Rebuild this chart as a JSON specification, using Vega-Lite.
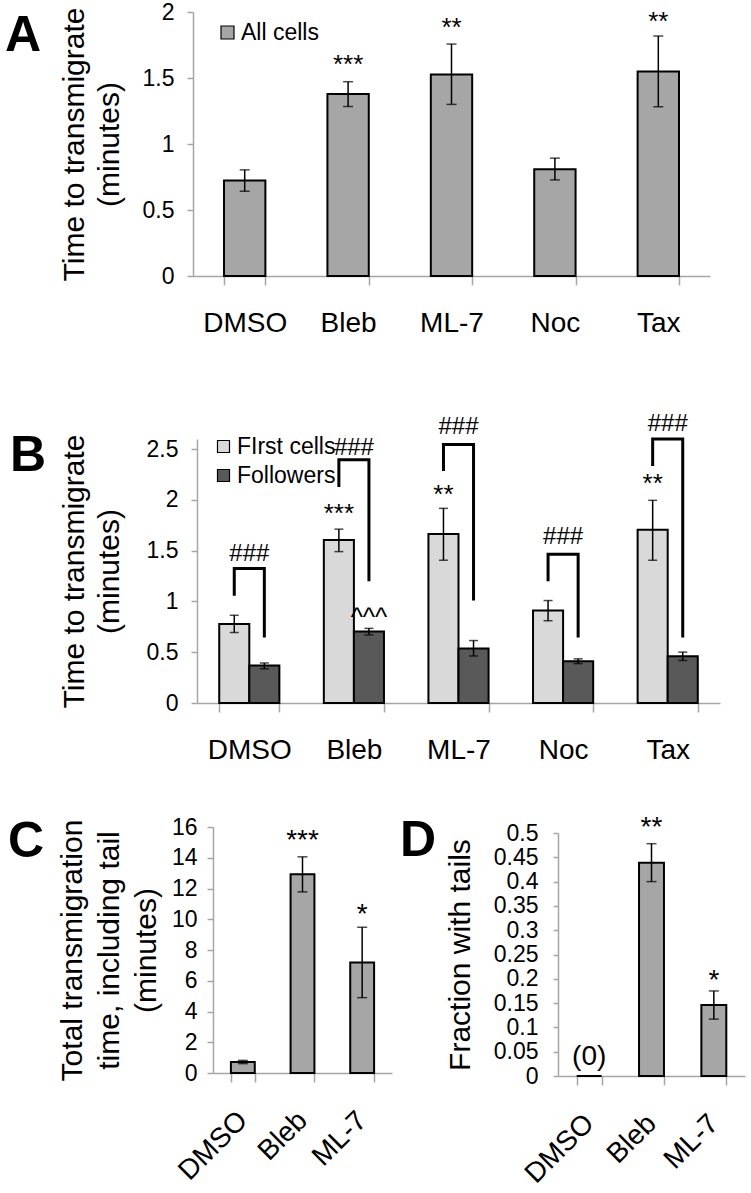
{
  "$schema": "https://vega.github.io/schema/vega-lite/v6.json",
  "autosize": "none",
  "padding": {"left": 193, "top": 12, "right": 558, "bottom": 1181},
  "background": "white",
  "config": {
    "font": "Liberation Sans",
    "view": {"stroke": null},
    "axis": {"domainColor": "#a6a6a6", "tickColor": "#a6a6a6", "domainWidth": 1.5, "tickWidth": 1.5, "labelColor": "#000000", "titleColor": "#000000", "titleFontWeight": "normal", "grid": false, "labelFont": "Liberation Sans", "titleFont": "Liberation Sans", "labelOverlap": false},
    "legend": {"labelFont": "Liberation Sans", "labelColor": "#000000"},
    "title": {"font": "Liberation Sans"}
  },
  "datasets": {
    "a_bars": [
      {"cond": "DMSO", "series": "All cells", "mean": 0.723, "lo": 0.642, "hi": 0.804},
      {"cond": "Bleb", "series": "All cells", "mean": 1.378, "lo": 1.284, "hi": 1.472},
      {"cond": "ML-7", "series": "All cells", "mean": 1.527, "lo": 1.30, "hi": 1.757},
      {"cond": "Noc", "series": "All cells", "mean": 0.809, "lo": 0.728, "hi": 0.893},
      {"cond": "Tax", "series": "All cells", "mean": 1.55, "lo": 1.282, "hi": 1.818}
    ],
    "a_notes": [
      {"cond": "Bleb", "y": 1.538, "label": "***"},
      {"cond": "ML-7", "y": 1.818, "label": "**"},
      {"cond": "Tax", "y": 1.864, "label": "**"}
    ],
    "b_bars": [
      {"cond": "DMSO", "series": "FIrst cells", "mean": 0.779, "lo": 0.694, "hi": 0.864},
      {"cond": "DMSO", "series": "Followers", "mean": 0.369, "lo": 0.337, "hi": 0.394},
      {"cond": "Bleb", "series": "FIrst cells", "mean": 1.605, "lo": 1.491, "hi": 1.712},
      {"cond": "Bleb", "series": "Followers", "mean": 0.703, "lo": 0.671, "hi": 0.735},
      {"cond": "ML-7", "series": "FIrst cells", "mean": 1.665, "lo": 1.406, "hi": 1.917},
      {"cond": "ML-7", "series": "Followers", "mean": 0.536, "lo": 0.463, "hi": 0.615},
      {"cond": "Noc", "series": "FIrst cells", "mean": 0.911, "lo": 0.81, "hi": 1.009},
      {"cond": "Noc", "series": "Followers", "mean": 0.41, "lo": 0.388, "hi": 0.435},
      {"cond": "Tax", "series": "FIrst cells", "mean": 1.706, "lo": 1.406, "hi": 1.996},
      {"cond": "Tax", "series": "Followers", "mean": 0.46, "lo": 0.419, "hi": 0.501}
    ],
    "b_brackets": [
      {"cond": "DMSO", "series": "FIrst cells", "step": 1, "y": 1.056},
      {"cond": "DMSO", "series": "FIrst cells", "step": 2, "y": 1.324},
      {"cond": "DMSO", "series": "Followers", "step": 3, "y": 1.324},
      {"cond": "DMSO", "series": "Followers", "step": 4, "y": 0.646},
      {"cond": "Bleb", "series": "FIrst cells", "step": 1, "y": 2.128},
      {"cond": "Bleb", "series": "FIrst cells", "step": 2, "y": 2.396},
      {"cond": "Bleb", "series": "Followers", "step": 3, "y": 2.396},
      {"cond": "Bleb", "series": "Followers", "step": 4, "y": 1.198},
      {"cond": "ML-7", "series": "FIrst cells", "step": 1, "y": 2.286},
      {"cond": "ML-7", "series": "FIrst cells", "step": 2, "y": 2.547},
      {"cond": "ML-7", "series": "Followers", "step": 3, "y": 2.547},
      {"cond": "ML-7", "series": "Followers", "step": 4, "y": 1.009},
      {"cond": "Noc", "series": "FIrst cells", "step": 1, "y": 1.198},
      {"cond": "Noc", "series": "FIrst cells", "step": 2, "y": 1.466},
      {"cond": "Noc", "series": "Followers", "step": 3, "y": 1.466},
      {"cond": "Noc", "series": "Followers", "step": 4, "y": 0.646},
      {"cond": "Tax", "series": "FIrst cells", "step": 1, "y": 2.333},
      {"cond": "Tax", "series": "FIrst cells", "step": 2, "y": 2.6},
      {"cond": "Tax", "series": "Followers", "step": 3, "y": 2.6},
      {"cond": "Tax", "series": "Followers", "step": 4, "y": 0.646}
    ],
    "b_hash": [
      {"cond": "DMSO", "y": 1.40, "label": "###"},
      {"cond": "Bleb", "y": 2.44, "label": "###"},
      {"cond": "ML-7", "y": 2.65, "label": "###"},
      {"cond": "Noc", "y": 1.57, "label": "###"},
      {"cond": "Tax", "y": 2.68, "label": "###"}
    ],
    "b_notes": [
      {"cond": "Bleb", "series": "FIrst cells", "y": 1.78, "label": "***"},
      {"cond": "ML-7", "series": "FIrst cells", "y": 1.97, "label": "**"},
      {"cond": "Tax", "series": "FIrst cells", "y": 2.08, "label": "**"},
      {"cond": "Bleb", "series": "Followers", "y": 0.76, "label": "^^^"}
    ],
    "c_bars": [
      {"cond": "DMSO", "mean": 0.72, "lo": 0.61, "hi": 0.82},
      {"cond": "Bleb", "mean": 12.93, "lo": 11.78, "hi": 14.06},
      {"cond": "ML-7", "mean": 7.18, "lo": 4.9, "hi": 9.48}
    ],
    "c_notes": [
      {"cond": "Bleb", "y": 14.54, "label": "***"},
      {"cond": "ML-7", "y": 9.75, "label": "*"}
    ],
    "d_bars": [
      {"cond": "DMSO", "mean": 0},
      {"cond": "Bleb", "mean": 0.439},
      {"cond": "ML-7", "mean": 0.146}
    ],
    "d_err": [
      {"cond": "Bleb", "lo": 0.40, "hi": 0.478},
      {"cond": "ML-7", "lo": 0.117, "hi": 0.175}
    ],
    "d_notes": [
      {"cond": "Bleb", "y": 0.493, "label": "**"},
      {"cond": "ML-7", "y": 0.18, "label": "*"},
      {"cond": "DMSO", "y": 0.023, "label": "(0)"}
    ]
  },
  "spacing": 124,
  "bounds": "flush",
  "resolve": {"scale": {"fill": "independent"}, "legend": {"fill": "independent"}},
  "vconcat": [
    {
      "width": 517,
      "height": 264,
      "title": {"text": "A", "orient": "top", "anchor": "start", "frame": "group", "fontSize": 50, "fontWeight": "bold", "color": "#000000", "baseline": "alphabetic", "offset": 0, "dx": -188, "dy": 100},
      "layer": [
        {
          "data": {"name": "a_bars"},
          "mark": {"type": "bar", "stroke": "#000000", "strokeWidth": 2},
          "encoding": {
            "x": {"field": "cond", "type": "nominal", "scale": {"domain": ["DMSO", "Bleb", "ML-7", "Noc", "Tax"], "paddingInner": 0.6, "paddingOuter": 0.3}, "axis": {"title": null, "tickBand": "extent", "tickSize": 9, "labelFontSize": 28, "labelAngle": 0, "labelPadding": 24, "labelOverlap": false}},
            "y": {"field": "mean", "type": "quantitative", "scale": {"domain": [0, 2]}, "axis": {"title": ["Time to transmigrate", "(minutes)"], "values": [0, 0.5, 1, 1.5, 2], "tickCount": 20, "format": "~g", "tickSize": 6, "labelPadding": 13, "labelFontSize": 23, "labelOverlap": false, "titleFontSize": 30, "titleLineHeight": 35, "titlePadding": 18}},
            "fill": {"field": "series", "type": "nominal", "scale": {"domain": ["All cells"], "range": ["#a6a6a6"]}, "legend": {"title": null, "orient": "none", "legendX": 23, "legendY": 9, "symbolType": "square", "symbolSize": 169, "symbolStrokeColor": "#000000", "symbolStrokeWidth": 1.2, "labelFontSize": 23, "labelOffset": 2}}
          }
        },
        {
          "data": {"name": "a_bars"},
          "mark": {"type": "rule", "color": "#000000", "strokeWidth": 1.5},
          "encoding": {
            "x": {"field": "cond", "type": "nominal"},
            "y": {"field": "lo", "type": "quantitative"},
            "y2": {"field": "hi"}
          }
        },
        {
          "data": {"name": "a_bars"},
          "mark": {"type": "tick", "color": "#000000", "thickness": 1.5, "size": 10},
          "encoding": {
            "x": {"field": "cond", "type": "nominal"},
            "y": {"field": "lo", "type": "quantitative"}
          }
        },
        {
          "data": {"name": "a_bars"},
          "mark": {"type": "tick", "color": "#000000", "thickness": 1.5, "size": 10},
          "encoding": {
            "x": {"field": "cond", "type": "nominal"},
            "y": {"field": "hi", "type": "quantitative"}
          }
        },
        {
          "data": {"name": "a_notes"},
          "mark": {"type": "text", "fontSize": 26, "baseline": "alphabetic", "color": "#000000"},
          "encoding": {
            "x": {"field": "cond", "type": "nominal"},
            "y": {"field": "y", "type": "quantitative"},
            "text": {"field": "label"}
          }
        }
      ]
    },
    {
      "width": 527,
      "height": 303,
      "title": {"text": "B", "orient": "top", "anchor": "start", "frame": "group", "fontSize": 50, "fontWeight": "bold", "color": "#000000", "baseline": "alphabetic", "offset": 0, "dx": -183, "dy": 121},
      "layer": [
        {
          "data": {"name": "b_bars"},
          "mark": {"type": "bar", "stroke": "#000000", "strokeWidth": 2},
          "encoding": {
            "x": {"field": "cond", "type": "nominal", "scale": {"domain": ["DMSO", "Bleb", "ML-7", "Noc", "Tax"], "paddingInner": 0.425, "paddingOuter": 0.2125, "range": [4, 527]}, "axis": {"title": null, "tickBand": "extent", "tickSize": 9, "labelFontSize": 28, "labelAngle": 0, "labelPadding": 24, "labelOverlap": false}},
            "xOffset": {"field": "series", "type": "nominal", "scale": {"domain": ["FIrst cells", "Followers"]}},
            "y": {"field": "mean", "type": "quantitative", "scale": {"domain": [0, 2.5], "range": [303, 39]}, "axis": {"title": ["Time to transmigrate", "(minutes)"], "values": [0, 0.5, 1, 1.5, 2, 2.5], "tickCount": 20, "format": "~g", "offset": -4, "tickSize": 6, "labelPadding": 13, "labelFontSize": 23, "labelOverlap": false, "titleFontSize": 30, "titleLineHeight": 35, "titlePadding": 22}},
            "fill": {"field": "series", "type": "nominal", "scale": {"domain": ["FIrst cells", "Followers"], "range": ["#d9d9d9", "#595959"]}, "legend": {"title": null, "orient": "none", "legendX": 19, "legendY": 35, "rowPadding": 5, "symbolType": "square", "symbolSize": 144, "symbolStrokeColor": "#000000", "symbolStrokeWidth": 1.2, "labelFontSize": 23, "labelOffset": 2}}
          }
        },
        {
          "data": {"name": "b_bars"},
          "mark": {"type": "rule", "color": "#000000", "strokeWidth": 1.5},
          "encoding": {
            "x": {"field": "cond", "type": "nominal"},
            "xOffset": {"field": "series", "type": "nominal"},
            "y": {"field": "lo", "type": "quantitative"},
            "y2": {"field": "hi"}
          }
        },
        {
          "data": {"name": "b_bars"},
          "mark": {"type": "tick", "color": "#000000", "thickness": 1.5, "size": 9},
          "encoding": {
            "x": {"field": "cond", "type": "nominal"},
            "xOffset": {"field": "series", "type": "nominal"},
            "y": {"field": "lo", "type": "quantitative"}
          }
        },
        {
          "data": {"name": "b_bars"},
          "mark": {"type": "tick", "color": "#000000", "thickness": 1.5, "size": 9},
          "encoding": {
            "x": {"field": "cond", "type": "nominal"},
            "xOffset": {"field": "series", "type": "nominal"},
            "y": {"field": "hi", "type": "quantitative"}
          }
        },
        {
          "data": {"name": "b_brackets"},
          "mark": {"type": "line", "color": "#000000", "strokeWidth": 3},
          "encoding": {
            "x": {"field": "cond", "type": "nominal"},
            "xOffset": {"field": "series", "type": "nominal"},
            "y": {"field": "y", "type": "quantitative"},
            "detail": {"field": "cond", "type": "nominal"},
            "order": {"field": "step", "type": "quantitative"}
          }
        },
        {
          "data": {"name": "b_hash"},
          "mark": {"type": "text", "fontSize": 24, "baseline": "alphabetic", "color": "#000000"},
          "encoding": {
            "x": {"field": "cond", "type": "nominal"},
            "y": {"field": "y", "type": "quantitative"},
            "text": {"field": "label"}
          }
        },
        {
          "data": {"name": "b_notes"},
          "mark": {"type": "text", "fontSize": 26, "baseline": "alphabetic", "color": "#000000"},
          "encoding": {
            "x": {"field": "cond", "type": "nominal"},
            "xOffset": {"field": "series", "type": "nominal"},
            "y": {"field": "y", "type": "quantitative"},
            "text": {"field": "label"}
          }
        }
      ]
    },
    {
      "hconcat": [
        {
          "width": 199,
          "height": 246,
          "title": {"text": "C", "orient": "top", "anchor": "start", "frame": "group", "fontSize": 50, "fontWeight": "bold", "color": "#000000", "baseline": "alphabetic", "offset": 0, "dx": -185, "dy": 91},
          "layer": [
            {
              "data": {"name": "c_bars"},
              "mark": {"type": "bar", "stroke": "#000000", "strokeWidth": 2, "fill": "#a6a6a6"},
              "encoding": {
                "x": {"field": "cond", "type": "nominal", "scale": {"domain": ["DMSO", "Bleb", "ML-7"], "paddingInner": 0.6, "paddingOuter": 0.3, "range": [20, 199]}, "axis": {"title": null, "tickBand": "extent", "tickSize": 9, "labelFontSize": 28, "labelAngle": -45, "labelAlign": "right", "labelBaseline": "middle", "labelPadding": 34, "labelOverlap": false}},
                "y": {"field": "mean", "type": "quantitative", "scale": {"domain": [0, 16]}, "axis": {"title": ["Total transmigration", "time, including tail", "(minutes)"], "values": [0, 2, 4, 6, 8, 10, 12, 14, 16], "tickCount": 20, "offset": -20, "tickSize": 6, "labelPadding": 10, "labelFontSize": 23, "labelOverlap": false, "titleFontSize": 30, "titleLineHeight": 37, "titlePadding": 10}}
              }
            },
            {
              "data": {"name": "c_bars"},
              "mark": {"type": "rule", "color": "#000000", "strokeWidth": 1.5},
              "encoding": {
                "x": {"field": "cond", "type": "nominal"},
                "y": {"field": "lo", "type": "quantitative"},
                "y2": {"field": "hi"}
              }
            },
            {
              "data": {"name": "c_bars"},
              "mark": {"type": "tick", "color": "#000000", "thickness": 1.5, "size": 10},
              "encoding": {
                "x": {"field": "cond", "type": "nominal"},
                "y": {"field": "lo", "type": "quantitative"}
              }
            },
            {
              "data": {"name": "c_bars"},
              "mark": {"type": "tick", "color": "#000000", "thickness": 1.5, "size": 10},
              "encoding": {
                "x": {"field": "cond", "type": "nominal"},
                "y": {"field": "hi", "type": "quantitative"}
              }
            },
            {
              "data": {"name": "c_notes"},
              "mark": {"type": "text", "fontSize": 28, "baseline": "alphabetic", "color": "#000000"},
              "encoding": {
                "x": {"field": "cond", "type": "nominal"},
                "y": {"field": "y", "type": "quantitative"},
                "text": {"field": "label"}
              }
            }
          ]
        },
        {
          "width": 187,
          "height": 249,
          "title": {"text": "D", "orient": "top", "anchor": "start", "frame": "group", "fontSize": 50, "fontWeight": "bold", "color": "#000000", "baseline": "alphabetic", "offset": 0, "dx": -158, "dy": 92},
          "layer": [
            {
              "data": {"name": "d_bars"},
              "mark": {"type": "bar", "stroke": "#000000", "strokeWidth": 2, "fill": "#a6a6a6"},
              "encoding": {
                "x": {"field": "cond", "type": "nominal", "scale": {"domain": ["DMSO", "Bleb", "ML-7"], "paddingInner": 0.6, "paddingOuter": 0.3}, "axis": {"title": null, "tickBand": "extent", "tickSize": 9, "labelFontSize": 28, "labelAngle": -45, "labelAlign": "right", "labelBaseline": "middle", "labelPadding": 34, "labelOverlap": false}},
                "y": {"field": "mean", "type": "quantitative", "scale": {"domain": [0, 0.5], "range": [249, 6]}, "axis": {"title": "Fraction with tails", "values": [0, 0.05, 0.1, 0.15, 0.2, 0.25, 0.3, 0.35, 0.4, 0.45, 0.5], "tickCount": 20, "format": "~g", "tickSize": 5, "labelPadding": 15, "labelFontSize": 23, "labelOverlap": false, "titleFontSize": 30, "titlePadding": 18}}
              }
            },
            {
              "data": {"name": "d_err"},
              "mark": {"type": "rule", "color": "#000000", "strokeWidth": 1.5},
              "encoding": {
                "x": {"field": "cond", "type": "nominal"},
                "y": {"field": "lo", "type": "quantitative"},
                "y2": {"field": "hi"}
              }
            },
            {
              "data": {"name": "d_err"},
              "mark": {"type": "tick", "color": "#000000", "thickness": 1.5, "size": 10},
              "encoding": {
                "x": {"field": "cond", "type": "nominal"},
                "y": {"field": "lo", "type": "quantitative"}
              }
            },
            {
              "data": {"name": "d_err"},
              "mark": {"type": "tick", "color": "#000000", "thickness": 1.5, "size": 10},
              "encoding": {
                "x": {"field": "cond", "type": "nominal"},
                "y": {"field": "hi", "type": "quantitative"}
              }
            },
            {
              "data": {"name": "d_notes"},
              "mark": {"type": "text", "fontSize": 28, "baseline": "alphabetic", "color": "#000000"},
              "encoding": {
                "x": {"field": "cond", "type": "nominal"},
                "y": {"field": "y", "type": "quantitative"},
                "text": {"field": "label"}
              }
            }
          ]
        }
      ],
      "spacing": 166,
      "bounds": "flush"
    }
  ]
}
